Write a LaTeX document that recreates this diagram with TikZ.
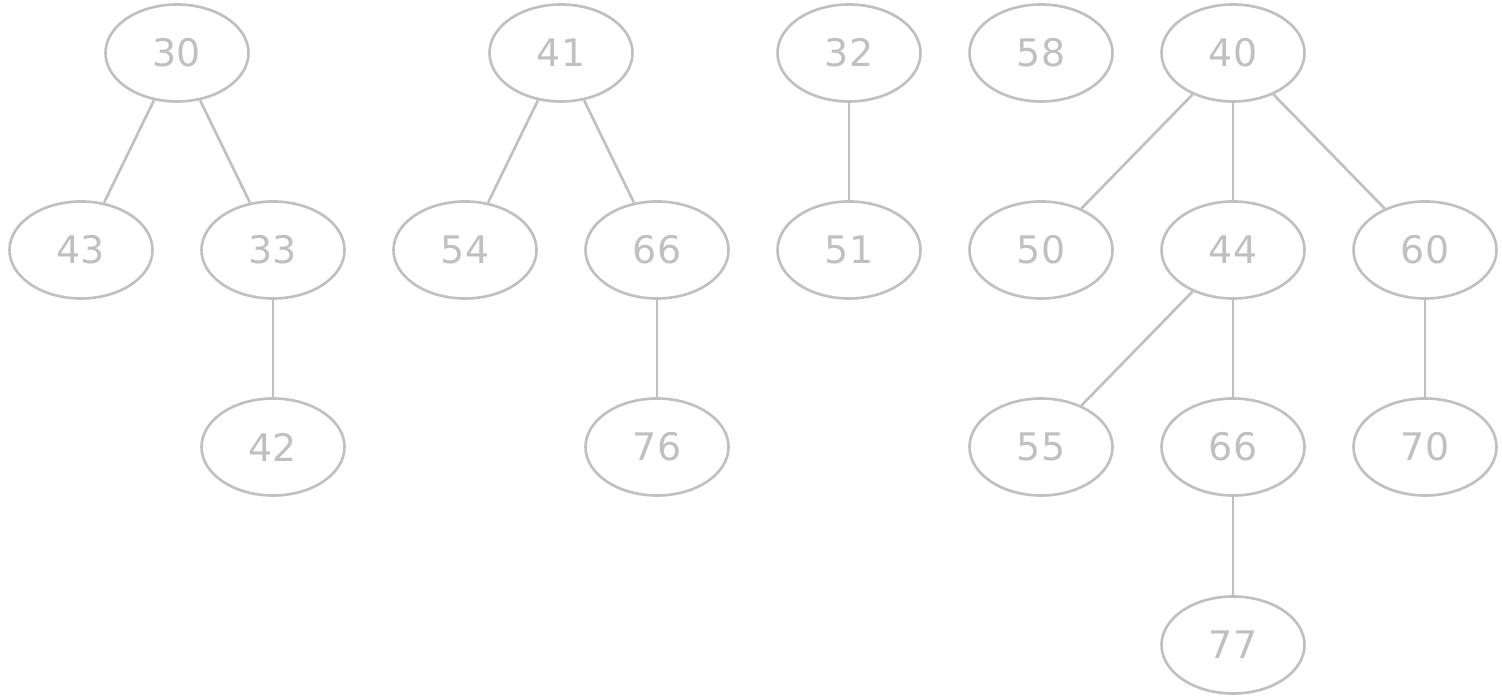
\documentclass[tikz,border=0pt]{standalone}
\usepackage{fontspec}
\setmainfont{DejaVu Sans}
\usetikzlibrary{shapes.geometric}
\definecolor{silver}{HTML}{C0C0C0}

\begin{document}
\begin{tikzpicture}[
  font=\fontsize{10.8}{13}\selectfont,
  knot/.style={ellipse, draw=silver, text=silver, line width=0.75pt,
    minimum width=1.43cm, minimum height=0.97cm, inner sep=0},
  edge/.style={draw=silver, line width=0.75pt},
]
\useasboundingbox (0,0) rectangle (15.02,-6.97);
% Drzewo 30
\node[knot] (n30) at (1.77,-0.53) {30};
\node[knot] (n43) at (0.81,-2.50) {43};
\node[knot] (n33) at (2.73,-2.50) {33};
\node[knot] (n42) at (2.73,-4.47) {42};
% Drzewo 41
\node[knot] (n41) at (5.61,-0.53) {41};
\node[knot] (n54) at (4.65,-2.50) {54};
\node[knot] (n66a) at (6.57,-2.50) {66};
\node[knot] (n76) at (6.57,-4.47) {76};
% Drzewo 32
\node[knot] (n32) at (8.49,-0.53) {32};
\node[knot] (n51) at (8.49,-2.50) {51};
% Drzewo 58
\node[knot] (n58) at (10.41,-0.53) {58};
% Drzewo 40
\node[knot] (n40) at (12.33,-0.53) {40};
\node[knot] (n50) at (10.41,-2.50) {50};
\node[knot] (n44) at (12.33,-2.50) {44};
\node[knot] (n60) at (14.25,-2.50) {60};
\node[knot] (n55) at (10.41,-4.47) {55};
\node[knot] (n66b) at (12.33,-4.47) {66};
\node[knot] (n70) at (14.25,-4.47) {70};
\node[knot] (n77) at (12.33,-6.45) {77};
% Krawedzie
\draw[edge] (n30) -- (n43);
\draw[edge] (n30) -- (n33);
\draw[edge] (n33) -- (n42);
\draw[edge] (n41) -- (n54);
\draw[edge] (n41) -- (n66a);
\draw[edge] (n66a) -- (n76);
\draw[edge] (n32) -- (n51);
\draw[edge] (n40) -- (n50);
\draw[edge] (n40) -- (n44);
\draw[edge] (n40) -- (n60);
\draw[edge] (n44) -- (n55);
\draw[edge] (n44) -- (n66b);
\draw[edge] (n60) -- (n70);
\draw[edge] (n66b) -- (n77);
\end{tikzpicture}
\end{document}
